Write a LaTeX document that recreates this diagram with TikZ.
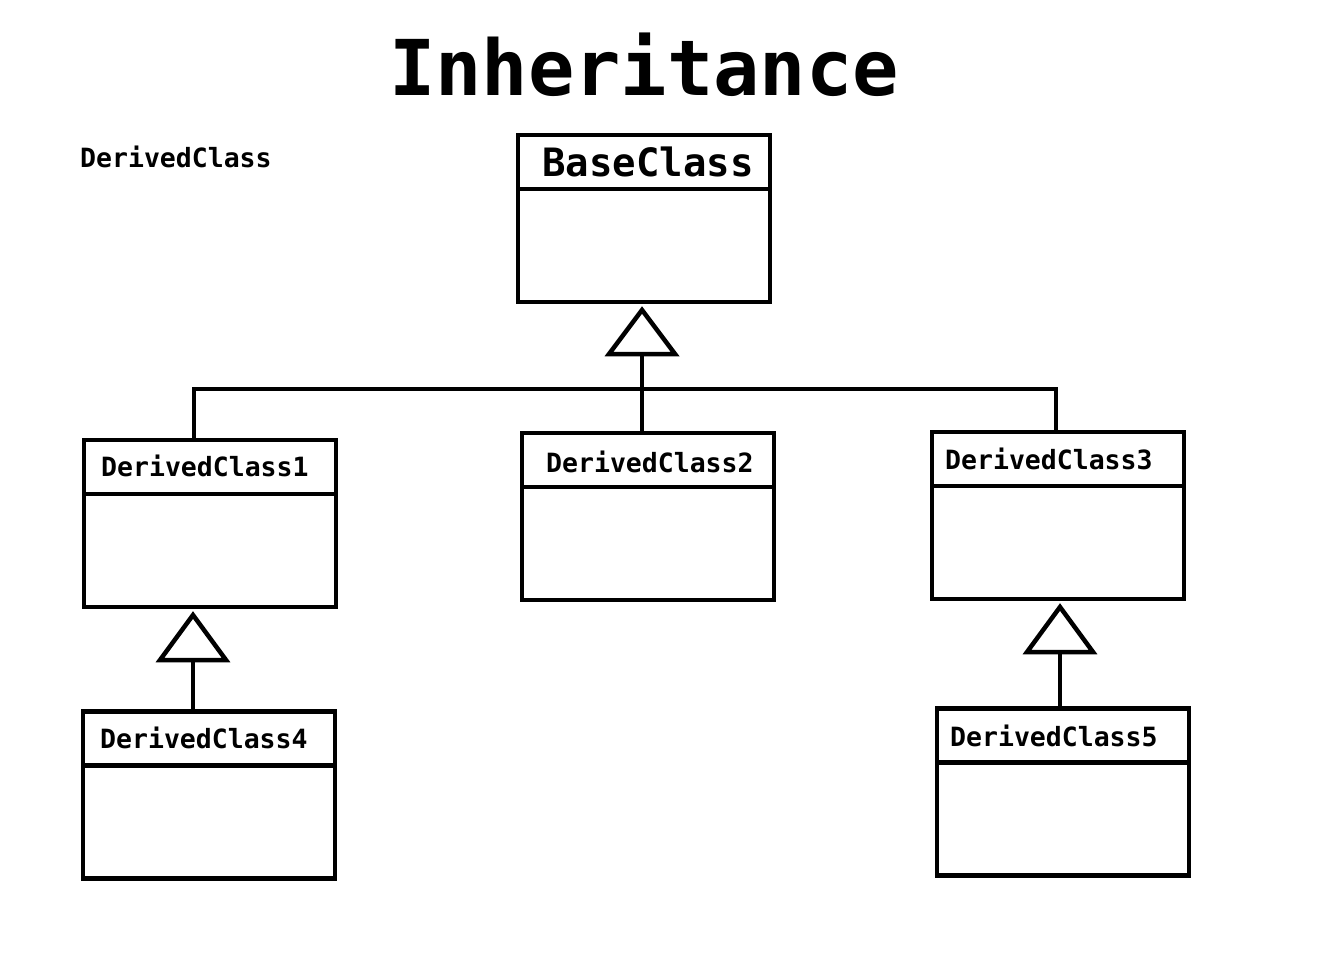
\documentclass[tikz,border=0pt]{standalone}
\usepackage{fontspec}
\setmonofont{DejaVu Sans Mono}
\usetikzlibrary{calc}
\tikzstyle{classbox}=[draw,line width=4.5pt,minimum width=252pt,minimum height=167pt,inner sep=0pt,outer sep=0pt]
\tikzstyle{classname}=[anchor=west,inner sep=0pt,font=\ttfamily\bfseries\fontsize{26.5}{30}\selectfont]
\tikzstyle{edge} = [draw,line width=4.5pt,line join=miter,-]
\tikzstyle{tri} = [draw,line width=4.5pt,line join=miter,fill=white]

\begin{document}
\begin{tikzpicture}[x=1pt,y=-1pt]

            \path [use as bounding box] (0,0) rectangle (1332,962);

            \node[font=\ttfamily\bfseries\fontsize{77}{80}\selectfont,inner sep=0pt] (title) at (644,65) {Inheritance};
            \node[classname] (lbl) at (80,157) {DerivedClass};

            \node[classbox] (base) at (644,218.5) {};
            \node[classbox] (dc1) at (210,523.5) {};
            \node[classbox] (dc2) at (648,516.5) {};
            \node[classbox] (dc3) at (1058,515.5) {};
            \node[classbox] (dc4) at (209,795) {};
            \node[classbox] (dc5) at (1063,792) {};

            \draw[edge] ([yshift=-54pt]base.north west) -- ([yshift=-54pt]base.north east);
            \draw[edge] ([yshift=-54pt]dc1.north west) -- ([yshift=-54pt]dc1.north east);
            \draw[edge] ([yshift=-54pt]dc2.north west) -- ([yshift=-54pt]dc2.north east);
            \draw[edge] ([yshift=-54pt]dc3.north west) -- ([yshift=-54pt]dc3.north east);
            \draw[edge] ([yshift=-54pt]dc4.north west) -- ([yshift=-54pt]dc4.north east);
            \draw[edge] ([yshift=-54pt]dc5.north west) -- ([yshift=-54pt]dc5.north east);

            \node[classname,font=\ttfamily\bfseries\fontsize{39}{44}\selectfont] (basename) at (542,162) {BaseClass};
            \node[classname] (dc1name) at (101,466) {DerivedClass1};
            \node[classname] (dc2name) at (546,462) {DerivedClass2};
            \node[classname] (dc3name) at (945,459) {DerivedClass3};
            \node[classname] (dc4name) at (100,738) {DerivedClass4};
            \node[classname] (dc5name) at (950,736) {DerivedClass5};

            % generalisation arrows
            \coordinate (t1) at (642,354);
            \coordinate (t4) at (193,660);
            \coordinate (t5) at (1060,652);
            \coordinate (j1) at (194,389);
            \coordinate (j3) at (1056,389);

            \path[edge] (t1) -- (t1 |- dc2.north);
            \path[edge] (j1 |- dc1.north) -- (j1) -- (j3) -- (j3 |- dc3.north);
            \path[edge] (t4) -- (t4 |- dc4.north);
            \path[edge] (t5) -- (t5 |- dc5.north);

            \draw[tri] ($(t1)+(-33,0)$) -- ($(t1)+(0,-44)$) -- ($(t1)+(33,0)$) -- cycle;
            \draw[tri] ($(t4)+(-33,0)$) -- ($(t4)+(0,-45)$) -- ($(t4)+(33,0)$) -- cycle;
            \draw[tri] ($(t5)+(-33,0)$) -- ($(t5)+(0,-45)$) -- ($(t5)+(33,0)$) -- cycle;

        \end{tikzpicture}
\end{document}
